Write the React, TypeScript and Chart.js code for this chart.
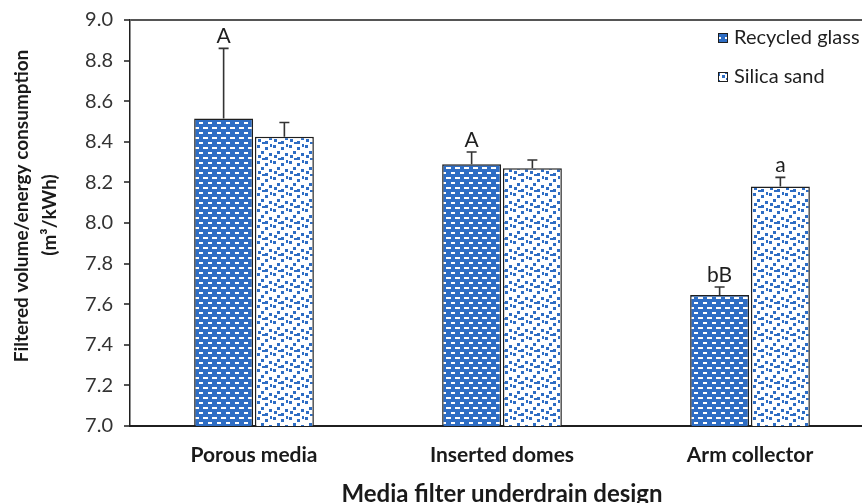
import { useEffect, useRef } from "react";
import { Chart, registerables } from "chart.js";

Chart.register(...registerables);

const categories = ["Porous media", "Inserted domes", "Arm collector"];
const seriesNames = ["Recycled glass", "Silica sand"];
const recycledGlass = [8.515, 8.29, 7.645];
const recycledGlassErr = [0.345, 0.06, 0.04];
const silicaSand = [8.425, 8.27, 8.18];
const silicaSandErr = [0.07, 0.04, 0.045];
const recycledGlassLetters = ["A", "A", "bB"];
const silicaSandLetters = ["", "", "a"];
const yMin = 7.0;
const yMax = 9.0;
const yStep = 0.2;
const yTitleLines = ["Filtered volume/energy consumption", "(m\u00b3/kWh)"];
const xTitle = "Media filter underdrain design";

const BLUE = "#2E6DC4";
const DARK = "#1f1f1f";
const FONT = "Lato";

function makeGlassPattern(): CanvasPattern | string {
  const c = document.createElement("canvas");
  c.width = 9;
  c.height = 10;
  const g = c.getContext("2d");
  if (!g) return BLUE;
  g.fillStyle = BLUE;
  g.fillRect(0, 0, 9, 10);
  g.fillStyle = "#ffffff";
  g.fillRect(1, 2, 4, 2);
  g.fillRect(5, 7, 4, 2);
  g.fillRect(0, 7, 1, 2);
  return g.createPattern(c, "repeat") || BLUE;
}

function makeSandPattern(): CanvasPattern | string {
  const c = document.createElement("canvas");
  c.width = 16;
  c.height = 16;
  const g = c.getContext("2d");
  if (!g) return "#ffffff";
  g.fillStyle = "#ffffff";
  g.fillRect(0, 0, 16, 16);
  g.fillStyle = BLUE;
  const pts = [
    [1, 1], [9, 3], [5, 7], [13, 9], [2, 11], [9, 13], [14, 0], [6, 14],
  ];
  for (const [x, y] of pts) g.fillRect(x, y, 3, 3);
  return g.createPattern(c, "repeat") || "#ffffff";
}

const errorBarPlugin = {
  id: "errorBars",
  afterDatasetsDraw(chart: any) {
    const ctx = chart.ctx;
    const yScale = chart.scales.y;
    const errs = [recycledGlassErr, silicaSandErr];
    const letters = [recycledGlassLetters, silicaSandLetters];
    ctx.save();
    chart.data.datasets.forEach((ds: any, i: number) => {
      const meta = chart.getDatasetMeta(i);
      meta.data.forEach((bar: any, j: number) => {
        const v = ds.data[j];
        const top = yScale.getPixelForValue(v + errs[i][j]);
        const x = bar.x;
        ctx.strokeStyle = "#333333";
        ctx.lineWidth = 1.6;
        ctx.beginPath();
        ctx.moveTo(x, bar.y);
        ctx.lineTo(x, top);
        ctx.moveTo(x - 5, top);
        ctx.lineTo(x + 5, top);
        ctx.stroke();
        const t = letters[i][j];
        if (t) {
          ctx.fillStyle = "#1f1f1f";
          ctx.font = `21px ${FONT}`;
          ctx.textAlign = "center";
          ctx.textBaseline = "alphabetic";
          ctx.fillText(t, x, top - 5);
        }
      });
    });
    ctx.restore();
  },
};

const customLegendPlugin = {
  id: "customLegend",
  afterDraw(chart: any) {
    const ctx = chart.ctx;
    ctx.save();
    chart.data.datasets.forEach((ds: any, i: number) => {
      const cy = 38 + i * 39;
      ctx.fillStyle = ds.backgroundColor;
      ctx.fillRect(718, cy - 5, 10, 10);
      ctx.strokeStyle = DARK;
      ctx.lineWidth = 1;
      ctx.strokeRect(718.5, cy - 4.5, 9, 9);
      ctx.fillStyle = "#1f1f1f";
      ctx.font = `20px ${FONT}`;
      ctx.textAlign = "left";
      ctx.textBaseline = "middle";
      ctx.fillText(ds.label, 734, cy);
    });
    ctx.restore();
  },
};

const yTitlePlugin = {
  id: "yTitle",
  afterDraw(chart: any) {
    const ctx = chart.ctx;
    ctx.save();
    ctx.fillStyle = "#1a1a1a";
    ctx.font = `bold 19px ${FONT}`;
    ctx.textAlign = "center";
    ctx.textBaseline = "middle";
    const centers = [
      [22, 206],
      [50, 215],
    ];
    yTitleLines.forEach((line, i) => {
      ctx.save();
      ctx.translate(centers[i][0], centers[i][1]);
      ctx.rotate(-Math.PI / 2);
      ctx.fillText(line, 0, 0);
      ctx.restore();
    });
    ctx.restore();
  },
};

export default function App() {
  const ref = useRef<HTMLCanvasElement | null>(null);
  useEffect(() => {
    if (!ref.current) return;
    const glass = makeGlassPattern();
    const sand = makeSandPattern();
    const chart = new Chart(ref.current, {
      type: "bar",
      data: {
        labels: categories,
        datasets: [
          {
            label: seriesNames[0],
            data: recycledGlass,
            backgroundColor: glass as any,
            borderColor: DARK,
            borderWidth: 1.5,
            categoryPercentage: 0.49,
            barPercentage: 0.97,
          },
          {
            label: seriesNames[1],
            data: silicaSand,
            backgroundColor: sand as any,
            borderColor: DARK,
            borderWidth: 1.5,
            categoryPercentage: 0.49,
            barPercentage: 0.97,
          },
        ],
      },
      options: {
        responsive: false,
        animation: false,
        layout: { padding: { top: 20, right: 0, bottom: 0, left: 0 } },
        plugins: {
          legend: { display: false },
          tooltip: { enabled: false },
        },
        scales: {
          x: {
            offset: true,
            grid: { display: false },
            border: { display: true, color: DARK, width: 2 },
            ticks: {
              color: "#1a1a1a",
              font: { family: FONT, size: 21, weight: "bold" },
              padding: 9,
            },
            title: {
              display: true,
              text: xTitle,
              color: "#1a1a1a",
              font: { family: FONT, size: 24, weight: "bold" },
              padding: { top: 0, bottom: -6 },
            },
            afterFit(scale: any) {
              scale.height = 77;
            },
          },
          y: {
            min: yMin,
            max: yMax,
            ticks: {
              stepSize: yStep,
              color: "#333333",
              font: { family: FONT, size: 20, lineHeight: 0.8 },
              padding: 11,
              callback: (v: any) => Number(v).toFixed(1),
            },
            grid: {
              drawOnChartArea: true,
              color: (c: any) => (c.tick && Math.abs(c.tick.value - yMax) < 1e-6 ? "#555555" : "rgba(0,0,0,0)"),
              tickColor: "#555555",
              tickLength: 6,
              lineWidth: 2,
            },
            border: { display: true, color: DARK, width: 1.5 },
            afterFit(scale: any) {
              scale.width = 130;
            },
          },
        },
      },
      plugins: [errorBarPlugin, customLegendPlugin, yTitlePlugin],
    });
    return () => chart.destroy();
  }, []);
  return (
    <div style={{ position: "fixed", left: 0, top: 0, width: 874, height: 503, background: "#fff" }}>
      <canvas ref={ref} width={874} height={503} style={{ width: 874, height: 503, display: "block" }} />
    </div>
  );
}
